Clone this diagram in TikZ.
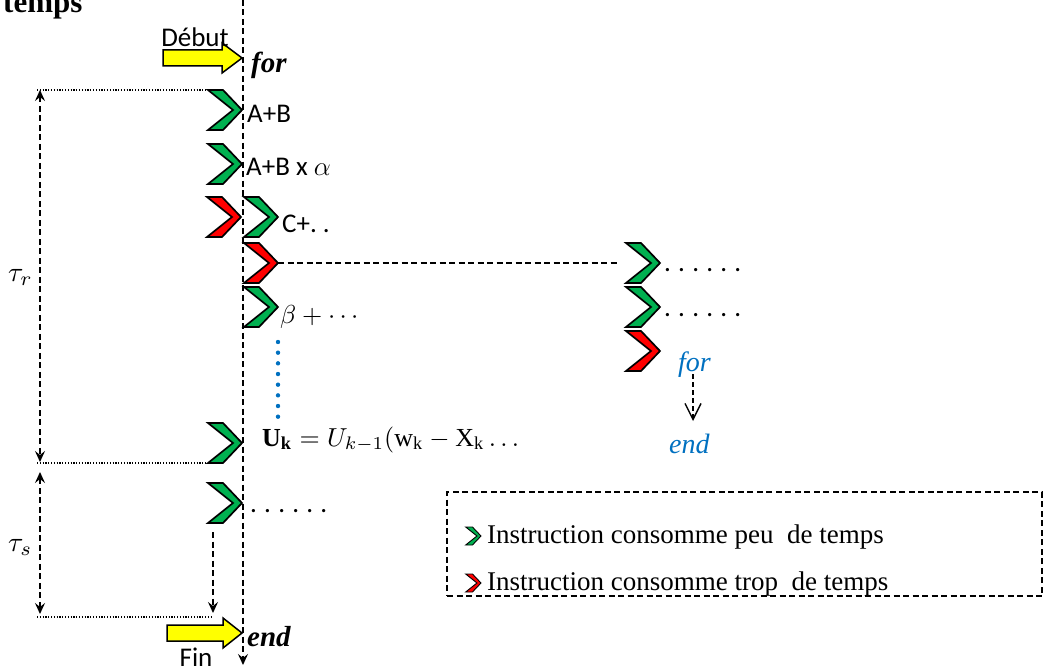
\RequirePackage{fix-cm}
\documentclass[tikz,border=0pt]{standalone}
\usepackage{graphicx}
\usepackage{fontspec}
\setmainfont{Liberation Serif}
\newfontfamily\calibri{Carlito}
\usetikzlibrary{arrows.meta}
\definecolor{chgreen}{HTML}{00B050}
\definecolor{chred}{HTML}{FF0000}
\definecolor{chblue}{HTML}{0070C0}
\definecolor{chyellow}{HTML}{FFFF00}
\newcommand\scmath[1]{\scalebox{2.6}{$#1$}}
\tikzset{
  chevstyle/.style={line width=1.7pt, line join=miter},
  pics/chev/.style={code={
    \draw[chevstyle, fill=#1] (-34,-20) -- (-19,-20) -- (0,0) -- (-19,20) -- (-34,20) -- (-9,0) -- cycle;
    \coordinate (-tip) at (0,0);
    \coordinate (-back) at (-34,0);
  }},
  txt/.style={inner sep=0pt, anchor=base west},
  calib/.style={txt, font=\calibri\fontsize{27}{32}\selectfont},
  yarrow/.style={draw=black, line width=1.5pt, fill=chyellow, line join=miter},
  axisline/.style={line width=1.5pt, dash pattern=on 6pt off 3.5pt},
  dimline/.style={line width=1.5pt, dash pattern=on 6pt off 3.5pt},
  guide/.style={line width=1.1pt, dash pattern=on 1.2pt off 1.6pt},
  dimtip/.tip={Stealth[length=11pt,width=10pt,inset=4pt]},
  legbox/.style={draw, line width=1.5pt, dash pattern=on 6pt off 3.5pt, inner sep=0pt},
  legtext/.style={txt, font=\fontsize{27}{32}\selectfont},
  mathlbl/.style={txt, font=\normalsize},
}
\begin{document}
\begin{tikzpicture}[x=1pt,y=-1pt]
\useasboundingbox (0,0) rectangle (1046,666);

% title
\node[txt, font=\fontsize{31}{36}\selectfont\bfseries] (temps) at (3,13) {temps};

% main time axis
\coordinate (axTop) at (243,0);
\coordinate (axBot) at (243,665);
\draw[axisline, -{dimtip}] (axTop) -- (axBot);

% start / end block arrows
\draw[yarrow] (163,50) -- (222,50) -- (222,43) -- (242,58) -- (222,73) -- (222,66) -- (163,66) -- cycle;
\node[calib, anchor=base] (debut) at (195,47) {Début};
\node[txt, font=\fontsize{29}{34}\selectfont\bfseries\itshape] (for) at (251,73) {for};

\draw[yarrow] (167,625) -- (223,625) -- (223,618) -- (242,633) -- (223,648) -- (223,641) -- (167,641) -- cycle;
\node[calib, anchor=base] (fin) at (196,666) {Fin};
\node[txt, font=\fontsize{29}{34}\selectfont\bfseries\itshape] (endm) at (247,646) {end};

% chevrons, left column
\pic (g1) at (242,110) {chev=chgreen};
\node[calib] (t1) at (247,123) {A+B};
\pic (g2) at (242,164) {chev=chgreen};
\node[calib] (t2) at (246,175) {A+B x $\alpha$};
\pic (r1) at (241,217) {chev=chred};
\pic (g3) at (278,217) {chev=chgreen};
\node[calib] (t3) at (282,232) {C+.\ .};
\pic (r2) at (278,263) {chev=chred};
\pic (g4) at (278,307) {chev=chgreen};
\node[mathlbl] (t4) at (280,323) {\scmath{\beta+\cdots}};
\draw[chblue, line width=4.4pt, line cap=round, dash pattern=on 0pt off 10.67pt] (278,342) -- (278,419);
\pic (g5) at (242,443) {chev=chgreen};
\node[mathlbl] (t5) at (262,446) {\scmath{\mathbf{U}_{\mathbf{k}}=U_{k-1}(\mathrm{w}_{\mathrm{k}}-\mathrm{X}_{\mathrm{k}}\ldots}};
\pic (g6) at (242,503) {chev=chgreen};
\node[calib] (t6) at (250,512) {\spaceskip=5.2pt\relax . . . . . .};

% right branch
\pic (g7) at (660,263) {chev=chgreen};
\node[calib] (t7) at (664,271) {\spaceskip=5.2pt\relax . . . . . .};
\pic (g8) at (660,307) {chev=chgreen};
\node[calib] (t8) at (664,316) {\spaceskip=5.2pt\relax . . . . . .};
\pic (r3) at (660,351) {chev=chred};
\draw[axisline] (r2-tip) -- ([xshift=-6pt]g7-back);
\node[txt, font=\fontsize{28}{32}\selectfont\itshape, text=chblue] (forb) at (678,371) {for};
\node[txt, font=\fontsize{28}{32}\selectfont\itshape, text=chblue] (endb) at (669,453) {end};
\coordinate (fa) at (693,374);
\coordinate (fb) at (693,421);
\draw[line width=1.4pt, dash pattern=on 5pt off 3pt, -{Straight Barb[length=16pt,width=16pt,line width=1.4pt]}] (fa) -- (fb);

% time spans
\coordinate (rTop) at (40,90);
\coordinate (rBot) at (40,462);
\coordinate (rTopR) at (208,90);
\coordinate (rBotR) at (208,463);
\draw[guide] (37,90) -- (rTopR);
\draw[guide] (37,463) -- (rBotR);
\draw[dimline, {dimtip}-{dimtip}] (rTop) -- (rBot);
\node[mathlbl] (taur) at (8,281) {\scalebox{2.8}{$\tau_r$}};

\coordinate (sTop) at (40,472);
\coordinate (sBot) at (40,614);
\coordinate (sLineR) at (212,617);
\draw[guide] (37,617) -- (sLineR);
\draw[dimline, {dimtip}-{dimtip}] (sTop) -- (sBot);
\node[mathlbl] (taus) at (8,551) {\scalebox{2.8}{$\tau_s$}};

\coordinate (dnA) at (213,532);
\coordinate (dnB) at (213,613);
\draw[dimline, -{dimtip}] (dnA) -- (dnB);

% legend
\node[legbox, minimum width=595pt, minimum height=104pt] (leg) at (744.5,544) {};
\pic[chevstyle/.style={line width=0.9pt}, scale=0.45] (lg1) at (481,536) {chev=chgreen};
\node[legtext] (l1) at (487,543) {Instruction consomme peu\ \ de temps};
\pic[chevstyle/.style={line width=0.9pt}, scale=0.45] (lg2) at (481,583) {chev=chred};
\node[legtext] (l2) at (487,590) {Instruction consomme trop\ \ de temps};
\end{tikzpicture}
\end{document}
